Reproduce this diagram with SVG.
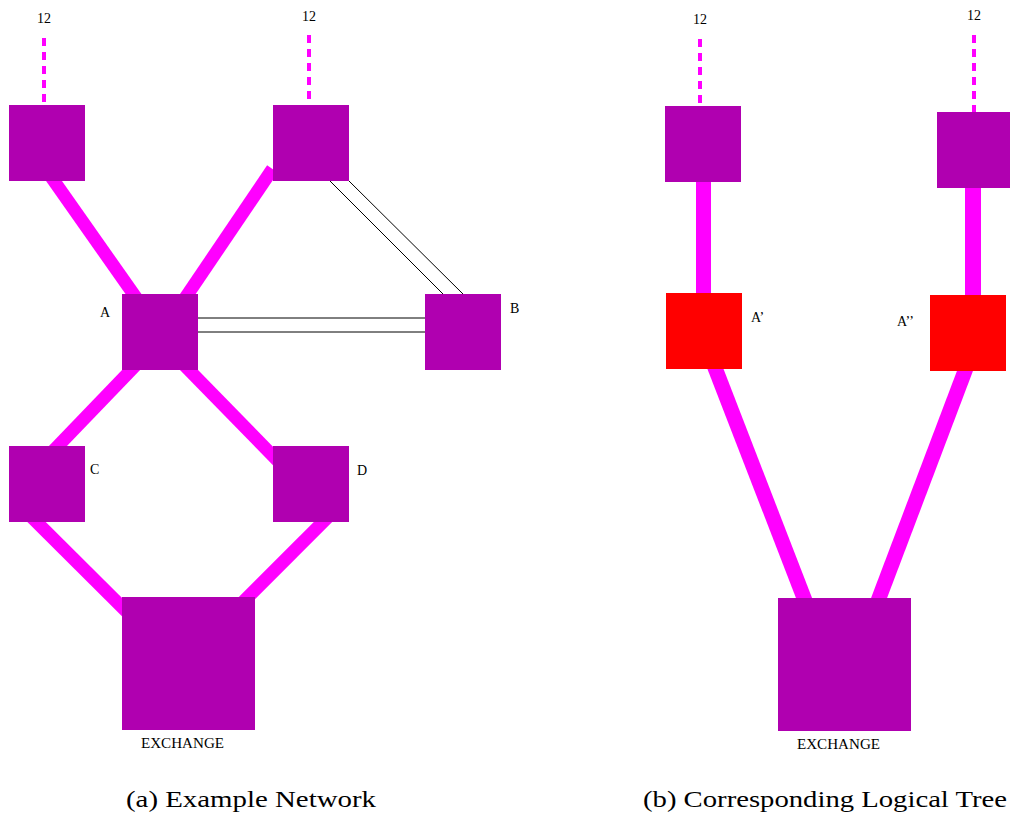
<svg xmlns="http://www.w3.org/2000/svg" width="1010" height="816" viewBox="0 0 1010 816">
<style>
.node{fill:#B000B0}
.red{fill:#FF0000}
.link{stroke:#FF00FF;stroke-width:13;fill:none}
.feed{stroke:#FF00FF;stroke-width:4;stroke-dasharray:8 6;fill:none}
.thin{stroke:#000;stroke-width:1;fill:none}
.lbl{font-family:"Liberation Serif",serif;font-size:14px;fill:#000}
.cap{font-family:"Liberation Serif",serif;font-size:24px;fill:#000}
</style>
<rect width="1010" height="816" fill="#fff"/>
<g id="connectors">
  <line class="feed" x1="44" y1="38" x2="44" y2="105"/>
  <line class="feed" x1="309" y1="35" x2="309" y2="105"/>
  <line class="feed" x1="700" y1="39" x2="700" y2="106"/>
  <line class="feed" x1="974" y1="35" x2="974" y2="112"/>
  <line class="link" x1="45.4" y1="168.7" x2="142.1" y2="306.3"/>
  <line class="link" x1="272.5" y1="169" x2="179.5" y2="306.4"/>
  <line class="link" x1="141.4" y1="359.2" x2="47.6" y2="456.8"/>
  <line class="link" x1="178.5" y1="359.3" x2="283.5" y2="466.7"/>
  <line class="link" x1="25.9" y1="511.4" x2="132.6" y2="617.6"/>
  <line class="link" x1="333.6" y1="511.4" x2="237.4" y2="607.6"/>
  <line class="thin" x1="330" y1="181" x2="443" y2="294"/>
  <line class="thin" x1="349" y1="181" x2="463" y2="294"/>
  <line class="thin" x1="198" y1="318" x2="425" y2="318"/>
  <line class="thin" x1="198" y1="332" x2="425" y2="332"/>
  <line class="link" style="stroke-width:15" x1="703.5" y1="175" x2="703.5" y2="300"/>
  <line class="link" style="stroke-width:16" x1="973" y1="180" x2="973" y2="302"/>
  <line class="link" style="stroke-width:15" x1="711.9" y1="359.7" x2="807.6" y2="607.3"/>
  <line class="link" style="stroke-width:15" x1="968.5" y1="361.7" x2="875.5" y2="607.3"/>
</g>
<g id="node-tl">
  <rect class="node" x="9" y="105" width="76" height="76"/>
  <text class="lbl" x="44" y="23" text-anchor="middle">12</text>
</g>
<g id="node-tm">
  <rect class="node" x="273" y="105" width="76" height="76"/>
  <text class="lbl" x="309" y="21" text-anchor="middle">12</text>
</g>
<g id="node-a">
  <rect class="node" x="122" y="294" width="76" height="76"/>
  <text class="lbl" x="100" y="317">A</text>
</g>
<g id="node-b">
  <rect class="node" x="425" y="294" width="76" height="76"/>
  <text class="lbl" x="510" y="313">B</text>
</g>
<g id="node-c">
  <rect class="node" x="9" y="446" width="76" height="76"/>
  <text class="lbl" x="90" y="474">C</text>
</g>
<g id="node-d">
  <rect class="node" x="273" y="446" width="76" height="76"/>
  <text class="lbl" x="357" y="475">D</text>
</g>
<g id="node-exchange-a">
  <rect class="node" x="122" y="597" width="133" height="133"/>
  <text class="lbl" x="141" y="748" textLength="83" lengthAdjust="spacingAndGlyphs">EXCHANGE</text>
</g>
<g id="node-rtl">
  <rect class="node" x="665" y="106" width="76" height="76"/>
  <text class="lbl" x="700" y="24" text-anchor="middle">12</text>
</g>
<g id="node-rtr">
  <rect class="node" x="937" y="112" width="76" height="76"/>
  <text class="lbl" x="974" y="20" text-anchor="middle">12</text>
</g>
<g id="node-a1">
  <rect class="red" x="666" y="293" width="76" height="76"/>
  <text class="lbl" x="751" y="322">A’</text>
</g>
<g id="node-a2">
  <rect class="red" x="930" y="295" width="76" height="76"/>
  <text class="lbl" x="897" y="326">A’’</text>
</g>
<g id="node-exchange-b">
  <rect class="node" x="778" y="598" width="133" height="133"/>
  <text class="lbl" x="797" y="749" textLength="83" lengthAdjust="spacingAndGlyphs">EXCHANGE</text>
</g>
<g id="captions">
  <text class="cap" x="126" y="807" textLength="250" lengthAdjust="spacingAndGlyphs">(a) Example Network</text>
  <text class="cap" x="643" y="807" textLength="364" lengthAdjust="spacingAndGlyphs">(b) Corresponding Logical Tree</text>
</g>
</svg>
